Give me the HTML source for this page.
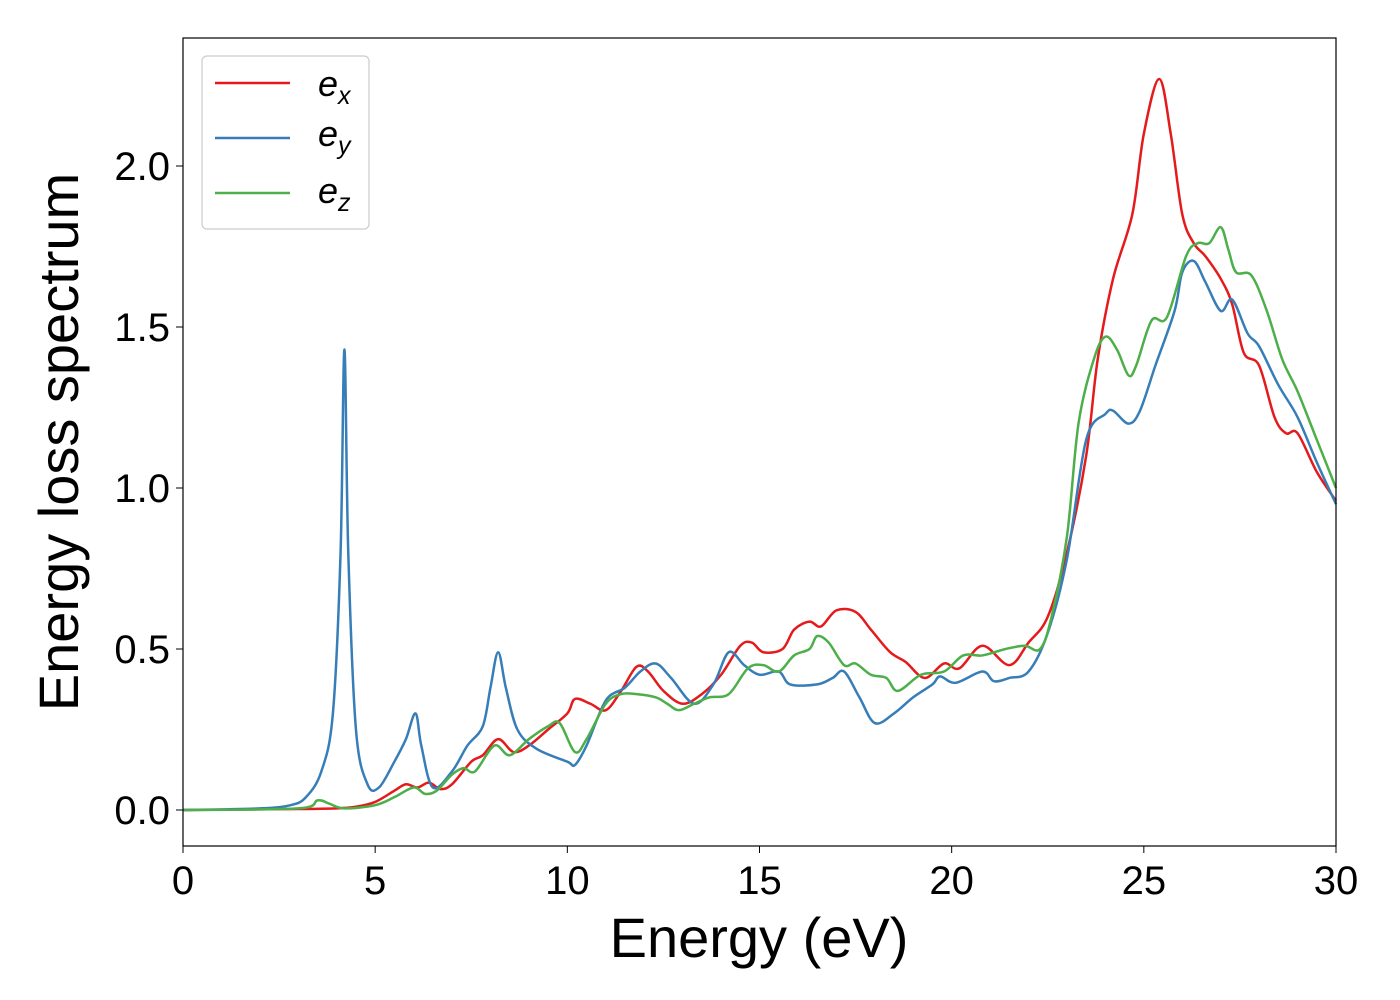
<!DOCTYPE html>
<html><head><meta charset="utf-8"><style>
html,body{margin:0;padding:0;background:#fff;}
svg{display:block;font-family:"Liberation Sans","DejaVu Sans",sans-serif;}
</style></head><body>
<svg id="chart" width="1400" height="1000">
<rect x="0" y="0" width="1400" height="1000" fill="#fff"/>
<g id="series"></g>
<g id="axes"></g>
<rect x="183" y="38" width="1153" height="808" fill="none" stroke="#000" stroke-width="1.2"/>
<text x="759" y="957" font-size="56" text-anchor="middle">Energy (eV)</text>
<text transform="translate(78,442) rotate(-90)" font-size="56" text-anchor="middle">Energy loss spectrum</text>
<g>
<rect x="202" y="56" width="167" height="173" rx="5" fill="#fff" stroke="#ccc" stroke-width="1.2"/>
<g><line x1="215" y1="83" x2="290" y2="83" stroke="#e41a1c" stroke-width="2.5"/><text x="318" y="96" font-size="36" font-style="italic">e<tspan font-size="25" dy="8">x</tspan></text></g>
<g><line x1="215" y1="138" x2="290" y2="138" stroke="#377eb8" stroke-width="2.5"/><text x="318" y="146" font-size="36" font-style="italic">e<tspan font-size="25" dy="8">y</tspan></text></g>
<g><line x1="215" y1="193" x2="290" y2="193" stroke="#4daf4a" stroke-width="2.5"/><text x="318" y="203" font-size="36" font-style="italic">e<tspan font-size="25" dy="8">z</tspan></text></g>
</g>
</svg>
<script>
const xTicks=[0,5,10,15,20,25,30];
const yTicks=[0.0,0.5,1.0,1.5,2.0];
const exE=[0,3,4,4.5,5,5.5,5.8,6.1,6.4,6.7,7,7.5,7.8,8.2,8.6,9,9.5,10,10.2,10.6,11,11.4,11.8,12.1,12.5,13,13.5,14,14.5,14.8,15.1,15.6,15.9,16.3,16.6,17,17.5,17.9,18.4,18.8,19.3,19.8,20.2,20.8,21.5,22,22.5,23,23.5,23.8,24.2,24.7,25,25.4,25.7,26,26.3,26.6,27,27.3,27.6,28,28.4,28.7,29,29.5,30];
const exV=[0,0.003,0.005,0.01,0.025,0.06,0.08,0.07,0.085,0.065,0.08,0.15,0.17,0.22,0.18,0.2,0.25,0.3,0.345,0.33,0.31,0.37,0.445,0.43,0.37,0.33,0.36,0.42,0.51,0.52,0.49,0.5,0.56,0.585,0.57,0.62,0.615,0.56,0.49,0.46,0.41,0.455,0.44,0.51,0.45,0.52,0.6,0.8,1.1,1.4,1.65,1.85,2.1,2.27,2.1,1.85,1.76,1.72,1.65,1.57,1.42,1.38,1.22,1.17,1.17,1.05,0.96];
const eyE=[0,2,2.8,3.2,3.6,3.9,4.1,4.2,4.3,4.5,4.8,5.1,5.5,5.8,6.05,6.2,6.5,7,7.4,7.8,8.0,8.2,8.4,8.7,9.2,10,10.2,10.5,11,11.5,11.9,12.3,12.7,13.3,13.8,14.2,14.6,15,15.5,15.8,16.5,16.9,17.2,17.6,18,18.5,19,19.5,19.7,20.1,20.8,21.1,21.5,22,22.5,23,23.5,24,24.2,24.6,24.9,25.3,25.8,26,26.3,26.6,27,27.3,27.7,28,28.5,29,29.5,30];
const eyV=[0,0.005,0.015,0.04,0.12,0.3,0.8,1.43,0.8,0.25,0.08,0.07,0.15,0.22,0.3,0.2,0.07,0.12,0.2,0.26,0.38,0.49,0.38,0.25,0.19,0.15,0.14,0.2,0.34,0.38,0.43,0.455,0.41,0.33,0.39,0.49,0.45,0.42,0.43,0.39,0.39,0.41,0.43,0.35,0.27,0.3,0.35,0.39,0.415,0.395,0.43,0.4,0.41,0.43,0.55,0.78,1.15,1.23,1.24,1.2,1.24,1.38,1.55,1.67,1.705,1.64,1.55,1.585,1.48,1.44,1.32,1.22,1.08,0.95];
const ezE=[0,3,3.5,3.8,4.2,5,5.5,6,6.3,6.6,7,7.3,7.6,8.1,8.5,9,9.5,9.8,10.2,10.5,11,11.4,11.8,12.3,12.6,12.9,13.3,13.7,14.2,14.7,15.1,15.5,15.9,16.3,16.5,16.8,17.2,17.5,17.9,18.3,18.6,19.2,19.8,20.3,20.8,21.4,21.9,22.3,22.6,23,23.3,23.7,24,24.3,24.6,24.8,25.2,25.6,26.1,26.4,26.7,27,27.2,27.4,27.8,28.2,28.6,29,29.5,30];
const ezV=[0,0.005,0.03,0.02,0.005,0.015,0.04,0.07,0.05,0.06,0.11,0.13,0.12,0.2,0.17,0.22,0.26,0.27,0.18,0.22,0.33,0.36,0.36,0.35,0.33,0.31,0.33,0.35,0.36,0.44,0.45,0.43,0.48,0.5,0.54,0.52,0.45,0.455,0.42,0.41,0.37,0.42,0.43,0.48,0.48,0.5,0.51,0.5,0.6,0.85,1.2,1.4,1.47,1.43,1.35,1.38,1.52,1.53,1.72,1.76,1.76,1.81,1.74,1.67,1.66,1.55,1.4,1.3,1.15,1.0];
const X0=183,X1=1336,Y0=846,Y1=38,xmin=0,xmax=30,ymin=-0.1118,ymax=2.3975;
function sx(v){return X0+(v-xmin)/(xmax-xmin)*(X1-X0);}
function sy(v){return Y0-(v-ymin)/(ymax-ymin)*(Y0-Y1);}
const NS="http://www.w3.org/2000/svg";
const axes=document.getElementById('axes');
xTicks.forEach(t=>{
 const l=document.createElementNS(NS,'line');
 l.setAttribute('x1',sx(t));l.setAttribute('x2',sx(t));l.setAttribute('y1',846);l.setAttribute('y2',853);l.setAttribute('stroke','#000');
 
 
 axes.appendChild(l);
 const tx=document.createElementNS(NS,'text');
 tx.setAttribute('x',sx(t));tx.setAttribute('y',894);tx.setAttribute('font-size','40');tx.setAttribute('text-anchor','middle');
 tx.textContent=t;
 
 
 axes.appendChild(tx);
});
yTicks.forEach(t=>{
 const l=document.createElementNS(NS,'line');
 l.setAttribute('x1',176);l.setAttribute('x2',183);l.setAttribute('y1',sy(t));l.setAttribute('y2',sy(t));l.setAttribute('stroke','#000');
 
 
 axes.appendChild(l);
 const tx=document.createElementNS(NS,'text');
 tx.setAttribute('x',170);tx.setAttribute('y',sy(t)+14);tx.setAttribute('font-size','40');tx.setAttribute('text-anchor','end');
 tx.textContent=t.toFixed(1);
 
 
 axes.appendChild(tx);
});
function curve(E,V){
 const p=E.map((e,i)=>[sx(e),sy(V[i])]);
 let d='M'+p[0][0]+','+p[0][1];
 for(let i=0;i<p.length-1;i++){
  const a=p[Math.max(0,i-1)],b=p[i],c=p[i+1],e=p[Math.min(p.length-1,i+2)];
  const c1=[b[0]+(c[0]-a[0])/6,b[1]+(c[1]-a[1])/6],c2=[c[0]-(e[0]-b[0])/6,c[1]-(e[1]-b[1])/6];
  d+=' C'+c1[0]+','+c1[1]+' '+c2[0]+','+c2[1]+' '+c[0]+','+c[1];
 }
 return d;
}
const g=document.getElementById('series');
[[exE,exV,'#e41a1c','series-ex'],[eyE,eyV,'#377eb8','series-ey'],[ezE,ezV,'#4daf4a','series-ez']].forEach(s=>{
 const p=document.createElementNS(NS,'path');
 p.setAttribute('d',curve(s[0],s[1]));p.setAttribute('fill','none');p.setAttribute('stroke',s[2]);p.setAttribute('stroke-width','2.5');
 
 
 g.appendChild(p);
});
</script>
</body></html>
